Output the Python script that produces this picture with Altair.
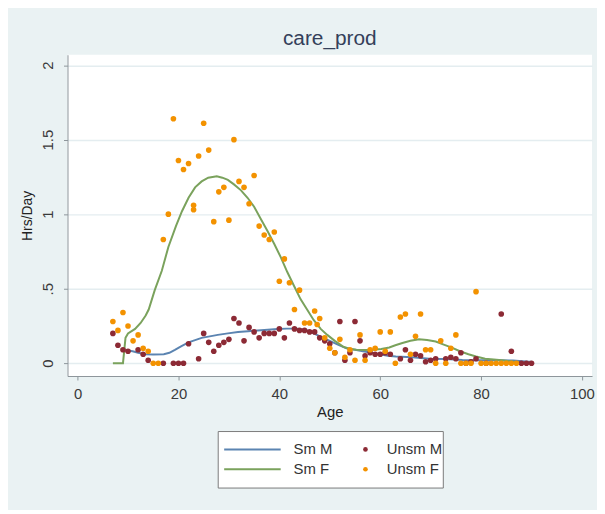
import altair as alt
import pandas as pd

# ---- Unsmoothed points ----
f_age = [7, 8, 9, 10, 11, 12, 13, 14, 15, 16, 17, 18, 19, 20, 21, 22, 23, 23, 24, 25,
         26, 27, 28, 29, 30, 31, 32, 33, 34, 35, 36, 37, 38, 39, 40, 41, 42, 43, 44, 45,
         46, 47, 47.5, 48, 49, 50, 51, 52, 53, 54, 55, 56, 57, 58, 59, 60, 61, 62, 63, 64,
         65, 66, 67, 68, 69, 70, 71, 72, 73, 74, 75, 76, 77, 78, 79, 80, 81, 82, 83, 84,
         85, 86, 87]
f_val = [0.28, 0.22, 0.34, 0.25, 0.15, 0.19, 0.10, 0.08, 0.0, 0.0, 0.83, 1.00, 1.64, 1.36, 1.30, 1.34, 1.06, 1.03, 1.39, 1.61,
         1.43, 0.95, 1.15, 1.18, 0.96, 1.50, 1.22, 1.18, 1.07, 1.26, 0.92, 0.86, 0.83, 0.88, 0.55, 0.70, 0.54, 0.36, 0.49, 0.27,
         0.27, 0.35, 0.26, 0.30, 0.17, 0.10, 0.07, 0.16, 0.04, 0.09, 0.02, 0.19, 0.02, 0.09, 0.10, 0.21, 0.08, 0.21, 0.0, 0.31,
         0.33, 0.06, 0.18, 0.33, 0.09, 0.09, 0.0, 0.15, 0.0, 0.10, 0.19, 0.0, 0.0, 0.0, 0.48, 0.0, 0.0, 0.0, 0.0, 0.0,
         0.0, 0.0, 0.0]

m_age = [7, 8, 9, 10, 12, 13, 14, 17, 19, 20, 21, 22, 24, 25, 26, 27, 28, 29, 30, 31,
         32, 33, 34, 35, 36, 37, 38, 39, 40, 41, 42, 43, 44, 45, 46, 47, 48, 49, 50, 51,
         52, 53, 54, 55, 56, 57, 58, 59, 60, 61, 62, 64, 65, 66, 67, 68, 69, 70, 71, 73,
         74, 75, 76, 77, 78, 79, 81, 84, 86, 88, 89, 90]
m_val = [0.20, 0.12, 0.09, 0.08, 0.09, 0.06, 0.02, 0.0, 0.0, 0.0, 0.0, 0.13, 0.03, 0.20, 0.14, 0.08, 0.12, 0.14, 0.16, 0.30,
         0.27, 0.15, 0.24, 0.21, 0.17, 0.20, 0.20, 0.20, 0.23, 0.17, 0.27, 0.23, 0.22, 0.22, 0.21, 0.21, 0.17, 0.15, 0.13, 0.07,
         0.28, 0.02, 0.07, 0.28, 0.15, 0.05, 0.07, 0.06, 0.06, 0.07, 0.06, 0.03, 0.09, 0.02, 0.06, 0.05, 0.01, 0.02, 0.03, 0.03,
         0.04, 0.03, 0.07, 0.0, 0.01, 0.03, 0.0, 0.33, 0.08, 0.0, 0.0, 0.0]

# ---- Smoothed lines ----
sf_age = [7, 9, 9.5, 10, 11.4, 12.5, 13.5, 14.1, 15.3, 16.7, 18, 19.5, 20.7, 22, 23.3, 24.6, 25.9, 27.6,
          28.7, 29.8, 31, 32.4, 33.7, 35, 36.3, 37.6, 39, 40.3, 41.6, 42.9, 44.2, 45.5, 46.8, 48.2, 49.5,
          51, 52.7, 54, 55.3, 57, 58.6, 60.2, 61.8, 63, 64.4, 66, 67.7, 69.3, 71, 72.6, 74.2, 75.8, 77.5,
          79, 80.8, 82.5, 84.1, 86, 88]
sf_val = [0.0, 0.0, 0.17, 0.20, 0.23, 0.27, 0.32, 0.36, 0.49, 0.62, 0.78, 0.92, 1.02, 1.11, 1.18, 1.22, 1.245, 1.255,
          1.245, 1.23, 1.20, 1.16, 1.11, 1.05, 0.97, 0.89, 0.80, 0.71, 0.61, 0.52, 0.43, 0.36, 0.29, 0.23, 0.19,
          0.15, 0.11, 0.095, 0.09, 0.088, 0.09, 0.095, 0.105, 0.12, 0.135, 0.15, 0.16, 0.155, 0.145, 0.125, 0.105, 0.08, 0.06,
          0.045, 0.03, 0.025, 0.02, 0.012, 0.005]

sm_age = [8.6, 10, 10.9, 12, 13.5, 15, 17.1, 18.2, 19.3, 20.6, 22, 23.3, 24.6, 26.2, 27.8, 29.8, 31.8, 33.8,
          35.7, 37.7, 39.6, 41.5, 43.5, 45.2, 46.8, 48.4, 50, 51.6, 53.3, 55, 56.6, 58.3, 59.9, 61.5, 63.1,
          66.4, 69.7, 73, 76.3, 79.5, 83, 86.3, 89.5, 90]
sm_val = [0.09, 0.085, 0.08, 0.07, 0.06, 0.058, 0.06, 0.07, 0.09, 0.115, 0.14, 0.155, 0.17, 0.18, 0.19, 0.20, 0.21, 0.215,
          0.22, 0.225, 0.23, 0.232, 0.232, 0.225, 0.20, 0.175, 0.15, 0.125, 0.10, 0.09, 0.08, 0.07, 0.06, 0.05, 0.045,
          0.04, 0.03, 0.028, 0.022, 0.02, 0.02, 0.018, 0.01, 0.01]

x_ticks = [0, 20, 40, 60, 80, 100]
y_ticks = [0, 0.5, 1, 1.5, 2]

line_names = ["Sm M", "Sm F"]
line_colors = ["#5b84b1", "#7aa25c"]
pt_names = ["Unsm M", "Unsm F"]
pt_colors = ["#8c2a35", "#f39200"]

lines_df = pd.concat([
    pd.DataFrame({"age": sm_age, "val": sm_val, "series": "Sm M"}),
    pd.DataFrame({"age": sf_age, "val": sf_val, "series": "Sm F"}),
])
pts_df = pd.concat([
    pd.DataFrame({"age": m_age, "val": m_val, "series": "Unsm M"}),
    pd.DataFrame({"age": f_age, "val": f_val, "series": "Unsm F"}),
])

FONT = "Liberation Sans"
LBL = "#3a3a3a"

x_enc = alt.X("age:Q", scale=alt.Scale(domain=[-2, 102], nice=False, zero=False),
              axis=alt.Axis(values=x_ticks, title="Age", grid=False, tickSize=4,
                            labelPadding=7, titlePadding=3, labelFontSize=15, titleFontSize=15,
                            labelFont=FONT, titleFont=FONT, labelColor=LBL, titleColor="#222",
                            titleFontWeight="normal", domainColor="#8d959a", tickColor="#8d959a",
                            labelFlush=False))
y_enc = alt.Y("val:Q", scale=alt.Scale(domain=[-0.086, 2.07], nice=False, zero=False),
              axis=alt.Axis(values=y_ticks, title="Hrs/Day", grid=True, gridColor="#e4edf0",
                            gridWidth=1.5, tickSize=4, labelAngle=270, labelAlign="center",
                            labelBaseline="bottom", labelPadding=8, titlePadding=6,
                            labelFontSize=15, titleFontSize=14, labelFont=FONT, titleFont=FONT,
                            labelColor=LBL, titleColor="#222", titleFontWeight="normal",
                            domainColor="#8d959a", tickColor="#8d959a", labelFlush=False,
                            labelExpr="datum.value == 0.5 ? '.5' : toString(datum.value)"))

box = alt.Chart(pd.DataFrame({"k": [0]})).mark_rect(
    fill="white", stroke="#7a7a7a", strokeWidth=1
).encode(x=alt.value(152), x2=alt.value(379), y=alt.value(380), y2=alt.value(437))

lines = alt.Chart(lines_df).mark_line(strokeWidth=2).encode(
    x=x_enc, y=y_enc,
    color=alt.Color("series:N", scale=alt.Scale(domain=line_names, range=line_colors),
                    legend=alt.Legend(orient="none", legendX=157, legendY=388, title=None,
                                      symbolType="stroke", symbolSize=3249, symbolStrokeWidth=2,
                                      clipHeight=20, rowPadding=0, padding=0, labelOffset=12,
                                      labelFontSize=15, labelFont=FONT, labelColor="#333")),
    order="age:Q",
)

points = alt.Chart(pts_df).mark_circle(size=32, opacity=1).encode(
    x=x_enc, y=y_enc,
    color=alt.Color("series:N", scale=alt.Scale(domain=pt_names, range=pt_colors),
                    legend=alt.Legend(orient="none", legendX=293, legendY=388, title=None,
                                      symbolType="circle", symbolSize=22, symbolStrokeWidth=0,
                                      clipHeight=20, rowPadding=0, padding=0, labelOffset=14,
                                      labelFontSize=15, labelFont=FONT, labelColor="#333")),
)

chart = alt.layer(box, lines, points).resolve_scale(color="independent").properties(
    width=529, height=324,
    autosize=alt.AutoSizeParams(type="none"),
    padding={"left": 60, "top": 45, "right": 5, "bottom": 133},
    background="#eaf2f3",
    title=alt.TitleParams("care_prod", fontSize=21, font=FONT, color="#34405a",
                          fontWeight="normal", anchor="middle", offset=6),
).configure_view(fill="white", stroke=None)

chart.save("out.html", embed_options={"renderer": "svg", "actions": False})
